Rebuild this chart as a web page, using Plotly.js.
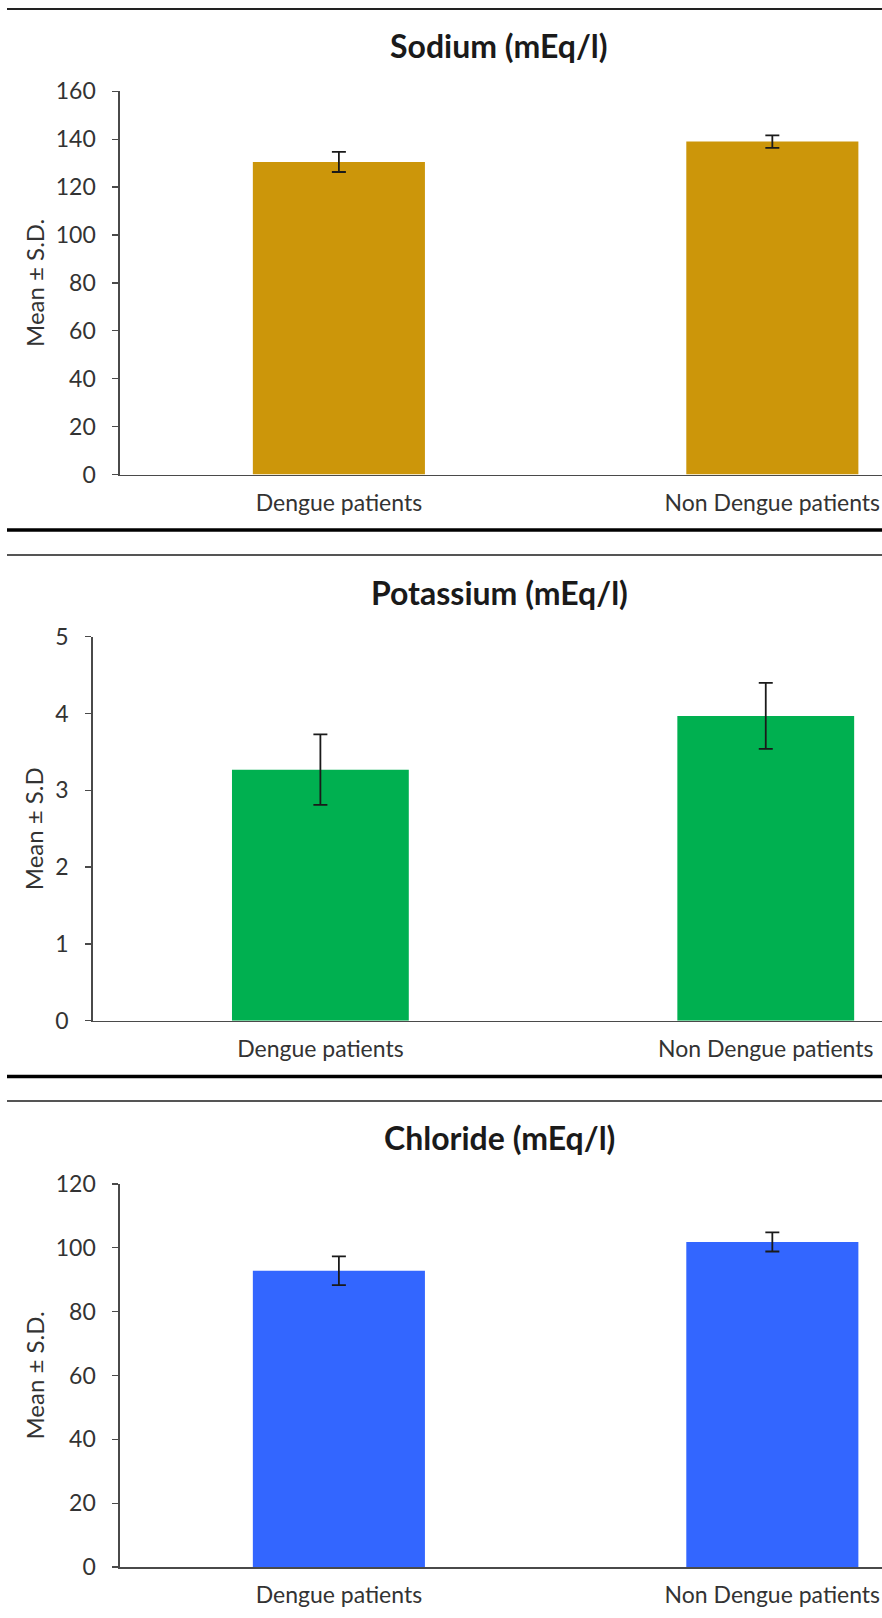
<!DOCTYPE html>
<html>
<head>
<meta charset="utf-8">
<script src="https://cdn.plot.ly/plotly-3.0.1.min.js"></script>
<style>
  html, body { margin: 0; padding: 0; background: #ffffff; }
  #chart { width: 882px; height: 1618px; }
</style>
</head>
<body>
<div id="chart"></div>
<script>
// ---------- data ----------
const categories = ['Dengue patients', 'Non Dengue patients'];

const panelTitles = ['Sodium (mEq/l)', 'Potassium (mEq/l)', 'Chloride (mEq/l)'];
const yAxisLabels = ['Mean ± S.D.', 'Mean ± S.D', 'Mean ± S.D.'];

const sodiumMean = [130.5, 139.0];
const sodiumSD = [4.2, 2.6];

const potassiumMean = [3.27, 3.97];
const potassiumSD = [0.46, 0.43];

const chlorideMean = [92.8, 101.8];
const chlorideSD = [4.5, 3.0];

const yTicksSodium = [0, 20, 40, 60, 80, 100, 120, 140, 160];
const yTicksPotassium = [0, 1, 2, 3, 4, 5];
const yTicksChloride = [0, 20, 40, 60, 80, 100, 120];

// ---------- styling / layout helpers ----------
const W = 882, H = 1618;
const py = p => 1 - p / H;   // pixel-from-top -> paper y
const px = p => p / W;       // pixel-from-left -> paper x

const FONT = 'Lato, "Open Sans", sans-serif';
const axisColor = '#4a4a4a';
const textColor = '#333333';

const colors = ['#CC960A', '#00B050', '#3366FF'];
const means = [sodiumMean, potassiumMean, chlorideMean];
const sds = [sodiumSD, potassiumSD, chlorideSD];
const yTicks = [yTicksSodium, yTicksPotassium, yTicksChloride];

// panel geometry (pixels)
const panels = [
  { axisX: 120, y0: 474.5, yTop: 91.3, xr: [-0.505, 1.253], titleY: 46, standoff: 4 },
  { axisX: 92.8, y0: 1020.7, yTop: 636.8, xr: [-0.511, 1.261], titleY: 592, standoff: 5 },
  { axisX: 120, y0: 1567.1, yTop: 1183.8, xr: [-0.505, 1.253], titleY: 1137, standoff: 4 }
];

const traces = [];
const layout = {
  width: W, height: H,
  margin: { l: 0, r: 0, t: 0, b: 0 },
  paper_bgcolor: '#ffffff',
  plot_bgcolor: '#ffffff',
  showlegend: false,
  font: { family: FONT, color: textColor, size: 23 },
  annotations: [],
  shapes: []
};

panels.forEach((p, i) => {
  const sfx = i === 0 ? '' : String(i + 1);
  traces.push({
    type: 'bar',
    x: categories,
    y: means[i],
    width: 0.397,
    marker: { color: colors[i], line: { width: 0 } },
    error_y: { type: 'data', array: sds[i], visible: true, color: '#1a1a1a', thickness: 1.8, width: 7 },
    xaxis: 'x' + sfx,
    yaxis: 'y' + sfx,
    hoverinfo: 'x+y'
  });
  const ymax = yTicks[i][yTicks[i].length - 1];
  layout['xaxis' + sfx] = {
    domain: [px(p.axisX), 1],
    anchor: 'y' + sfx,
    type: 'category',
    range: p.xr,
    showgrid: false,
    zeroline: false,
    showline: true,
    linecolor: axisColor,
    linewidth: 1.6,
    ticks: '',
    ticklabelstandoff: 7,
    tickfont: { family: FONT, size: 23, color: textColor },
    fixedrange: true
  };
  layout['yaxis' + sfx] = {
    domain: [py(p.y0), py(p.yTop)],
    anchor: 'x' + sfx,
    range: [0, ymax],
    tickmode: 'array',
    tickvals: yTicks[i],
    ticktext: yTicks[i].map(String),
    showgrid: false,
    zeroline: false,
    showline: true,
    linecolor: axisColor,
    linewidth: 1.6,
    ticks: 'outside',
    ticklen: 6,
    tickwidth: 1.4,
    tickcolor: axisColor,
    ticklabelstandoff: 12,
    tickfont: { family: FONT, size: 23, color: textColor },
    title: {
      text: yAxisLabels[i],
      standoff: p.standoff,
      font: { family: FONT, size: 24, color: textColor }
    },
    automargin: false,
    fixedrange: true
  };
  layout.annotations.push({
    text: '<b>' + panelTitles[i] + '</b>',
    xref: 'paper', yref: 'paper',
    x: px(499), y: py(p.titleY),
    xanchor: 'center', yanchor: 'middle',
    showarrow: false,
    font: { family: FONT, size: 32, color: '#1a1a1a' }
  });
});

// separator rules between panels
const rules = [
  { y: 9, w: 2, c: '#222222' },
  { y: 530, w: 3.5, c: '#000000' },
  { y: 555, w: 2, c: '#555555' },
  { y: 1076.5, w: 3.5, c: '#000000' },
  { y: 1101, w: 2, c: '#555555' }
];
rules.forEach(r => {
  layout.shapes.push({
    type: 'line', xref: 'paper', yref: 'paper',
    x0: px(7), x1: 1, y0: py(r.y), y1: py(r.y),
    line: { color: r.c, width: r.w }
  });
});

Plotly.newPlot('chart', traces, layout, { displayModeBar: false, staticPlot: true });
</script>
</body>
</html>
